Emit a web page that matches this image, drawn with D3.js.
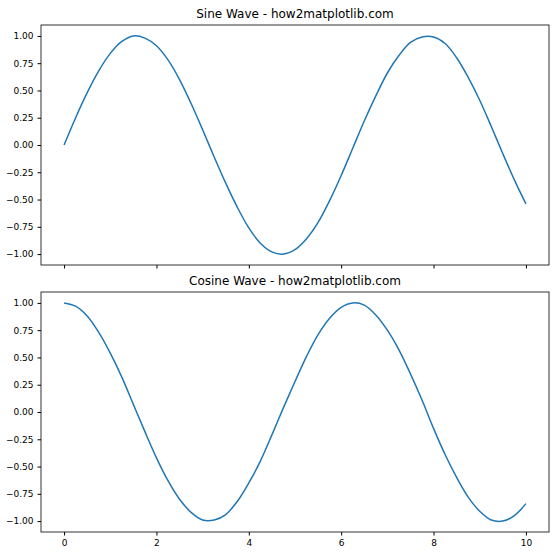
<!DOCTYPE html><html><head><meta charset="utf-8"><script src="https://cdn.jsdelivr.net/npm/d3@7"></script>
<style>body{margin:0;background:#fff}text{font-family:"DejaVu Sans",sans-serif}</style></head><body>
<svg id="c" width="560" height="560"></svg>
<script>
const xs=d3.range(41).map(i=>i*0.25);
const sineVals=[0,.25,.48,.68,.84,.95,1.00,.98,.91,.78,.60,.38,.14,-.11,-.35,-.57,-.76,-.90,-.98,-1.00,-.96,-.86,-.71,-.51,-.28,-.03,.22,.45,.66,.82,.94,.99,.99,.93,.80,.62,.41,.17,-.08,-.32,-.54];
const cosVals=[1,.97,.88,.73,.54,.32,.07,-.18,-.42,-.63,-.80,-.92,-.99,-.99,-.94,-.82,-.65,-.45,-.21,.04,.28,.51,.71,.86,.96,1.00,.98,.89,.75,.57,.35,.11,-.15,-.39,-.60,-.78,-.91,-.99,-1.00,-.95,-.84];
const xTicks=[0,2,4,6,8,10];
const yTicks=[-1,-0.75,-0.5,-0.25,0,0.25,0.5,0.75,1];
const panels=[{title:"Sine Wave - how2matplotlib.com",vals:sineVals,top:25,labels:false},
{title:"Cosine Wave - how2matplotlib.com",vals:cosVals,top:292,labels:true}];
const svg=d3.select("#c");
const x=d3.scaleLinear().domain([-0.5,10.5]).range([41,549]);
panels.forEach(p=>{
 const y=d3.scaleLinear().domain([-1.1,1.1]).range([p.top+240,p.top]);
 const g=svg.append("g");
 g.append("path").datum(p.vals).attr("fill","none").attr("stroke","#1f77b4").attr("stroke-width",1.5)
  .attr("d",d3.line().x((d,i)=>x(xs[i])).y(d=>y(d)).curve(d3.curveCatmullRom));
 const ax=g.append("g").attr("transform",`translate(0,${p.top+240})`).call(d3.axisBottom(x).tickValues(xTicks).tickSizeOuter(0).tickSize(3.5).tickPadding(4).tickFormat(p.labels?d3.format("d"):""));
 const ay=g.append("g").attr("transform","translate(41,0)").call(d3.axisLeft(y).tickValues(yTicks).tickSizeOuter(0).tickSize(3.5).tickPadding(4).tickFormat(d3.format(".2f")));
 [ax,ay].forEach(a=>{a.select(".domain").remove();a.selectAll("text").attr("font-size",9).attr("fill","#000").style("font-family","DejaVu Sans");a.selectAll("line").attr("stroke","#000");});
 g.append("rect").attr("x",41).attr("y",p.top).attr("width",508).attr("height",240).attr("fill","none").attr("stroke","#000").attr("stroke-width",0.8);
 g.append("text").attr("x",295).attr("y",p.top-7).attr("text-anchor","middle").attr("font-size",12).text(p.title);
});
</script></body></html>
